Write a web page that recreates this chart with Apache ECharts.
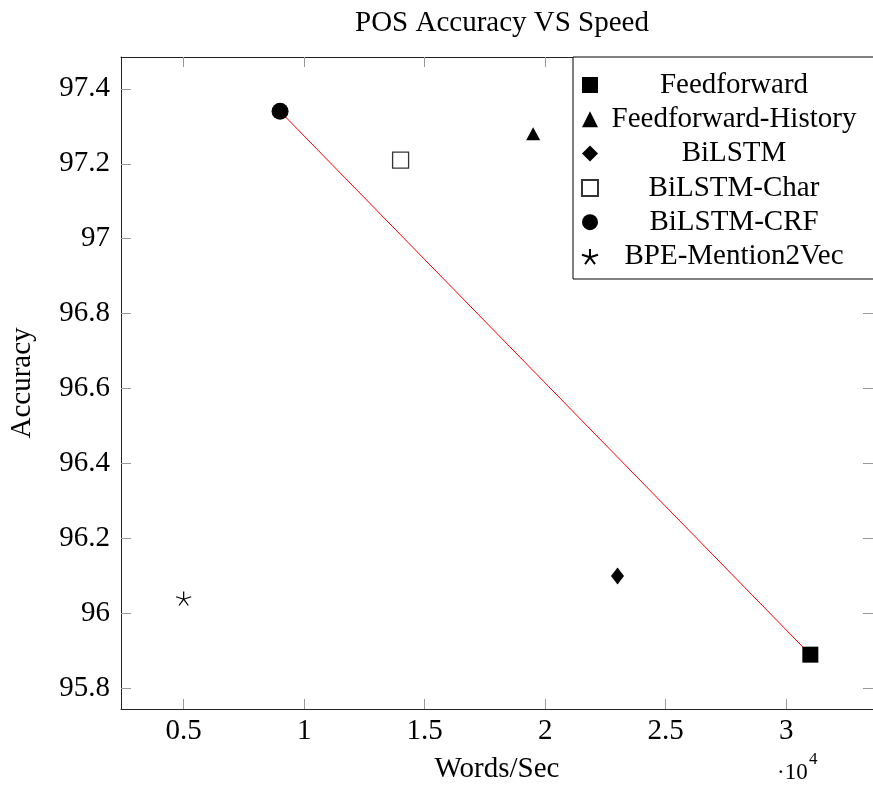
<!DOCTYPE html>
<html><head><meta charset="utf-8">
<script src="https://cdn.jsdelivr.net/npm/echarts@6/dist/echarts.min.js"></script>
<style>html,body{margin:0;padding:0;background:#fff}#c{width:873px;height:790px}</style>
</head><body><div id="c"></div>
<script>
// Data (x in units of 10^4 words/sec)
const seriesNames = ['Feedforward', 'Feedforward-History', 'BiLSTM', 'BiLSTM-Char', 'BiLSTM-CRF', 'BPE-Mention2Vec'];
const wordsPerSec = [3.1, 1.95, 2.3, 1.4, 0.9, 0.5];
const accuracy = [95.89, 97.28, 96.10, 97.21, 97.34, 96.04];
const trendX = [0.9, 3.1];
const trendY = [97.34, 95.89];
const xTicks = [0.5, 1, 1.5, 2, 2.5, 3];
const yTicks = [95.8, 96, 96.2, 96.4, 96.6, 96.8, 97, 97.2, 97.4];

const FONT = "'Liberation Serif', 'Times New Roman', serif";
const FS = 29;
const X_MIN = 0.24, X_MAX = 3.36, Y_MIN = 95.745, Y_MAX = 97.485;

const starPath = 'path://M100,100L100,0M100,100L195,69M100,100L159,181M100,100L41,181M100,100L5,69';
const markerStyles = {
  'Feedforward': { symbol: 'rect', size: 16, item: { color: '#000', opacity: 1 } },
  'Feedforward-History': { symbol: 'triangle', size: [14, 13], item: { color: '#000', opacity: 1 } },
  'BiLSTM': { symbol: 'diamond', size: [13, 17], item: { color: '#000', opacity: 1 } },
  'BiLSTM-Char': { symbol: 'rect', size: 16, item: { color: '#fff', borderColor: '#333', borderWidth: 1.3, opacity: 1 } },
  'BiLSTM-CRF': { symbol: 'circle', size: 17, item: { color: '#000', opacity: 1 } },
  'BPE-Mention2Vec': { symbol: starPath, size: [15, 14], item: { color: 'rgba(0,0,0,0)', borderColor: '#000', borderWidth: 1.2, opacity: 1 } }
};

const chart = echarts.init(document.getElementById('c'));

const series = [{
  type: 'line',
  name: 'trend',
  data: trendX.map((x, i) => [x, trendY[i]]),
  symbol: 'none',
  lineStyle: { color: '#ff0000', width: 1 },
  itemStyle: { color: '#ff0000' },
  silent: true,
  z: 1
}];
seriesNames.forEach((n, i) => {
  const m = markerStyles[n];
  series.push({
    type: 'scatter',
    name: n,
    data: [[wordsPerSec[i], accuracy[i]]],
    symbol: m.symbol,
    symbolSize: m.size,
    itemStyle: m.item,
    emphasis: { disabled: true },
    z: 3
  });
});

const axisLine = { show: true, onZero: false, lineStyle: { color: '#222', width: 1 } };
const tickStyle = { color: '#999', width: 1 };

chart.setOption({
  animation: false,
  backgroundColor: '#fff',
  title: {
    text: 'POS Accuracy VS Speed',
    left: 497, top: 4, textAlign: 'center',
    textStyle: { fontFamily: FONT, fontSize: FS, fontWeight: 'normal', color: '#000' }
  },
  grid: { left: 121, top: 57, right: -5, bottom: 81, containLabel: false },
  legend: {
    data: seriesNames,
    orient: 'vertical',
    left: 573, top: 57,
    padding: [13.5, 14, 8, 8],
    itemWidth: 16, itemHeight: 16,
    itemGap: 5.3,
    borderColor: '#000', borderWidth: 1,
    backgroundColor: '#fff',
    formatter: '{t|{name}}',
    textStyle: {
      color: '#000', fontFamily: FONT, fontSize: FS,
      rich: { t: { width: 262, align: 'center', fontFamily: FONT, fontSize: FS, lineHeight: 30, color: '#000' } }
    },
    selectedMode: false
  },
  xAxis: [{
    type: 'value', min: X_MIN, max: X_MAX,
    name: 'Words/Sec', nameLocation: 'middle', nameGap: 46,
    nameTextStyle: { fontFamily: FONT, fontSize: FS, color: '#000' },
    axisLine: axisLine,
    axisTick: { show: true, inside: true, length: 10, lineStyle: tickStyle, customValues: xTicks },
    axisLabel: { show: true, margin: 8, fontFamily: FONT, fontSize: FS, color: '#000', customValues: xTicks },
    splitLine: { show: false }
  }, {
    type: 'value', min: X_MIN, max: X_MAX, position: 'top',
    axisLine: axisLine,
    axisTick: { show: true, inside: true, length: 10, lineStyle: tickStyle, customValues: xTicks },
    axisLabel: { show: false },
    splitLine: { show: false }
  }],
  yAxis: [{
    type: 'value', min: Y_MIN, max: Y_MAX,
    name: 'Accuracy', nameLocation: 'middle', nameGap: 84,
    nameTextStyle: { fontFamily: FONT, fontSize: FS, color: '#000' },
    axisLine: axisLine,
    axisTick: { show: true, inside: true, length: 10, lineStyle: tickStyle, customValues: yTicks },
    axisLabel: { show: true, margin: 11, fontFamily: FONT, fontSize: FS, color: '#000', customValues: yTicks },
    splitLine: { show: false }
  }, {
    type: 'value', min: Y_MIN, max: Y_MAX, position: 'right',
    axisLine: axisLine,
    axisTick: { show: true, inside: true, length: 10, lineStyle: tickStyle, customValues: yTicks },
    axisLabel: { show: false },
    splitLine: { show: false }
  }],
  graphic: [
    { type: 'text', left: 777, top: 761, style: { text: '·10', font: "23px 'Liberation Serif', serif", fill: '#000' } },
    { type: 'text', left: 809, top: 751, style: { text: '4', font: "17px 'Liberation Serif', serif", fill: '#000' } }
  ],
  series: series
});
</script>
</body></html>
